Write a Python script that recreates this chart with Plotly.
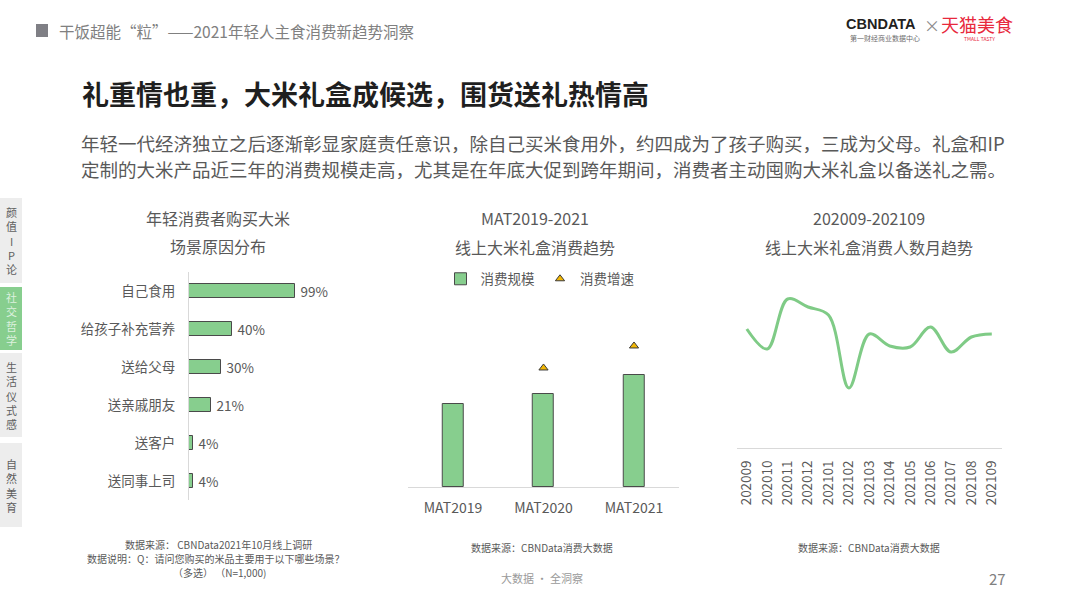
import plotly.graph_objects as go

# ---------------- data ----------------
reasons = ["自己食用", "给孩子补充营养", "送给父母", "送亲戚朋友", "送客户", "送同事上司"]
reason_pct = [99, 40, 30, 21, 4, 4]

mat_periods = ["MAT2019", "MAT2020", "MAT2021"]
giftbox_scale = [83, 93, 112]          # relative consumption scale (index)
giftbox_growth = [None, 11, 20]        # relative growth (index)

months = ["202009", "202010", "202011", "202012", "202101", "202102", "202103",
          "202104", "202105", "202106", "202107", "202108", "202109"]
buyers_index = [119, 99, 149, 141, 133, 60, 114, 102, 101, 121, 96, 111, 114]

side_tabs = ["颜值IP论", "社交哲学", "生活仪式感", "自然美育"]

# ---------------- helpers ----------------
W, H = 1080, 605
def px(x):
    return x / W
def py(y):
    return 1 - y / H

CJK = "Noto Sans CJK SC"
GREEN = "#87CE8E"
EDGE = "#4A4A4A"
TXT = "#595959"
AXL = "#D9D9D9"

fig = go.Figure()

# left: horizontal bars
fig.add_trace(go.Bar(
    x=reason_pct, y=reasons, orientation="h",
    marker=dict(color=GREEN, line=dict(color=EDGE, width=1)),
    width=0.36,
    text=[f" {v}%" for v in reason_pct], textposition="outside",
    constraintext="none",
    textfont=dict(size=13.5, color=TXT, family=CJK),
    cliponaxis=False, showlegend=False, hoverinfo="skip",
    xaxis="x", yaxis="y",
))

# middle: bars + triangles
fig.add_trace(go.Bar(
    x=mat_periods, y=giftbox_scale, name="消费规模",
    marker=dict(color=GREEN, line=dict(color=EDGE, width=1)),
    width=0.23, xaxis="x2", yaxis="y2", hoverinfo="skip",
))
fig.add_trace(go.Scatter(
    x=mat_periods, y=giftbox_growth, name="消费增速", mode="markers",
    marker=dict(symbol="triangle-up", size=8, color="#F2B705",
                line=dict(color="#3A3A3A", width=1)),
    xaxis="x2", yaxis="y3", hoverinfo="skip", cliponaxis=False,
))

# right: smoothed line
fig.add_trace(go.Scatter(
    x=months, y=buyers_index, mode="lines",
    line=dict(color="#7FCB86", width=3, shape="spline", smoothing=1),
    xaxis="x3", yaxis="y4", showlegend=False, hoverinfo="skip", cliponaxis=False,
))

hidden = dict(visible=False, showgrid=False, zeroline=False, fixedrange=True)

fig.update_layout(
    width=W, height=H,
    margin=dict(l=0, r=0, t=0, b=0),
    paper_bgcolor="white", plot_bgcolor="rgba(0,0,0,0)",
    font=dict(family=CJK, color=TXT),
    bargap=0,
    xaxis=dict(domain=[px(189), px(328)], range=[0, 130], anchor="y", **hidden),
    yaxis=dict(domain=[py(500), py(272)], anchor="x", type="category",
               range=[5.5, -0.5], showgrid=False, zeroline=False,
               showline=True, linecolor=AXL, linewidth=1, ticks="",
               ticklabelstandoff=10,
               tickfont=dict(size=13.5, color=TXT, family=CJK)),
    xaxis2=dict(domain=[px(407.75), px(679.25)], anchor="y2", type="category",
                range=[-0.5, 2.5], showgrid=False, zeroline=False,
                showline=True, linecolor=AXL, linewidth=1, ticks="",
                ticklabelstandoff=8,
                tickfont=dict(size=14, color=TXT, family=CJK)),
    yaxis2=dict(domain=[py(487), py(290)], anchor="x2", range=[0, 197], **hidden),
    yaxis3=dict(domain=[py(487), py(290)], anchor="x2", overlaying="y2",
                range=[-37.7, 42.9], **hidden),
    xaxis3=dict(domain=[px(736.6), px(1002)], anchor="y4", type="category",
                range=[-0.5, 12.5], showgrid=False, zeroline=False,
                showline=True, linecolor=AXL, linewidth=1, ticks="",
                tickangle=-90, ticklabelstandoff=6,
                tickfont=dict(size=13.5, color=TXT, family=CJK)),
    yaxis4=dict(domain=[py(448), py(290)], anchor="x3", range=[0, 158], **hidden),
    legend=dict(orientation="h", x=px(540), xanchor="center", y=py(279),
                yanchor="middle", font=dict(size=13.5, color=TXT, family=CJK),
                bgcolor="rgba(0,0,0,0)", itemwidth=30, tracegroupgap=0),
)

shapes = []
annotations = []

def note(x, y, text, size, color=TXT, xanchor="center", bold=False, family=CJK):
    annotations.append(dict(
        x=px(x), y=py(y), xref="paper", yref="paper", text=(f"<b>{text}</b>" if bold else text),
        showarrow=False, xanchor=xanchor, yanchor="middle", borderpad=0,
        font=dict(size=size, color=color, family=family)))

# header
shapes.append(dict(type="rect", xref="paper", yref="paper",
                   x0=px(36), x1=px(48), y0=py(37), y1=py(24),
                   fillcolor="#7F7F85", line=dict(width=0)))
note(58, 31, "干饭超能“粒”——2021年轻人主食消费新趋势洞察", 15.5, "#808080", "left")

# logo
note(845, 24, "<b>CBNDATA</b>", 14.5, "#231F20", "left", family="Liberation Sans")
note(932, 25, "×", 16, "#8C8C8C")
note(977, 24, "天猫美食", 18, "#E8283C")
note(885, 38.5, "第一财经商业数据中心", 7, "#6E6E6E")
note(979, 38.5, "TMALL TASTY", 5, "#E8283C")

# title & body
note(81, 94, "礼重情也重，大米礼盒成候选，围货送礼热情高", 27, "#1F1F1F", "left", bold=True)
note(80, 143, "年轻一代经济独立之后逐渐彰显家庭责任意识，除自己买米食用外，约四成为了孩子购买，三成为父母。礼盒和IP",
     18.5, TXT, "left")
note(80, 169, "定制的大米产品近三年的消费规模走高，尤其是在年底大促到跨年期间，消费者主动囤购大米礼盒以备送礼之需。",
     18.5, TXT, "left")

# chart titles
note(218, 218, "年轻消费者购买大米", 16, TXT)
note(218, 246, "场景原因分布", 16, TXT)
note(535, 218, "MAT2019-2021", 16, TXT)
note(535, 247, "线上大米礼盒消费趋势", 16, TXT)
note(869, 218, "202009-202109", 16, TXT)
note(869, 247, "线上大米礼盒消费人数月趋势", 16, TXT)

# footnotes
note(218, 544, "数据来源： CBNData2021年10月线上调研", 10, TXT)
note(215, 558, "数据说明：Q：请问您购买的米品主要用于以下哪些场景？", 10, TXT)
note(219, 572, "（多选） （N=1,000)", 10, TXT)
note(542, 547, "数据来源：CBNData消费大数据", 10, TXT)
note(869, 547, "数据来源：CBNData消费大数据", 10, TXT)
note(542, 578, "大数据 · 全洞察", 11, "#9A9A9A")
note(997, 578, "27", 15, "#808080")

# side tabs
tab_boxes = [(198, 283), (287, 350), (353, 437), (443, 527)]
for i, (label, (t, b)) in enumerate(zip(side_tabs, tab_boxes)):
    active = (i == 1)
    shapes.append(dict(type="rect", xref="paper", yref="paper",
                       x0=0, x1=px(22), y0=py(b), y1=py(t),
                       fillcolor=GREEN if active else "#EDEDED", line=dict(width=0)))
    annotations.append(dict(
        x=px(11), y=py((t + b) / 2), xref="paper", yref="paper",
        text="<br>".join(list(label)), showarrow=False,
        xanchor="center", yanchor="middle",
        font=dict(size=11, color="#DDF1DE" if active else "#5F5F5F", family=CJK)))

fig.update_layout(shapes=shapes, annotations=annotations)

fig.write_html("out.html")
